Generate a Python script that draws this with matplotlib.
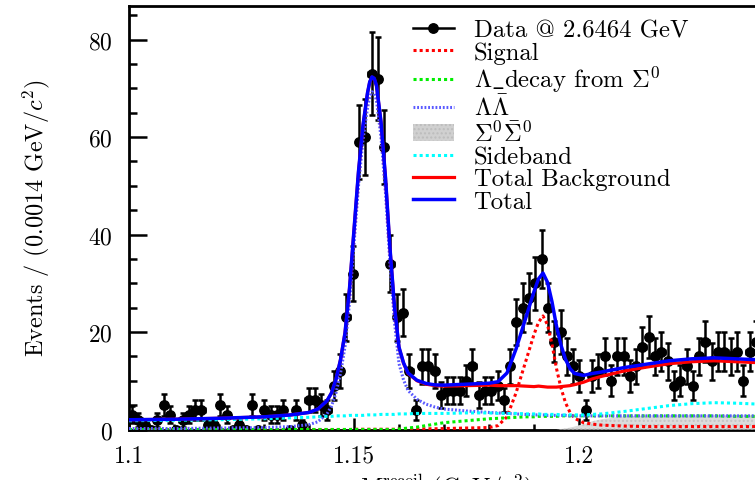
import numpy as np
import matplotlib
matplotlib.use('Agg')
import matplotlib.pyplot as plt
from matplotlib.lines import Line2D
from matplotlib.patches import Patch
from matplotlib.ticker import MultipleLocator, FuncFormatter

plt.rcParams['font.family'] = ['cmr10', 'DejaVu Serif']
plt.rcParams['mathtext.fontset'] = 'cm'
plt.rcParams['axes.formatter.use_mathtext'] = True

# histogram: 100 bins of 0.0014 GeV starting at 1.1
x_lo = 1.1
bin_width = 0.0014
counts = [3, 2, 1, 0, 2, 5, 3, 0, 2, 3,
          4, 4, 1, 1, 5, 3, 0, 1, 0, 5,
          0, 4, 3, 3, 4, 0, 4, 1, 6, 6,
          5, 4, 9, 12, 23, 32, 59, 60, 73, 72,
          58, 34, 23, 24, 12, 4, 13, 13, 12, 7,
          8, 8, 8, 10, 13, 7, 8, 8, 9, 6,
          13, 22, 25, 27, 30, 35, 25, 18, 20, 15,
          13, 11, 4, 11, 12, 15, 10, 15, 15, 11,
          13, 17, 19, 15, 16, 14, 9, 10, 13, 9,
          15, 18, 14, 16, 16, 15, 16, 10, 16, 18]

# fit components
fit_x = [1.100, 1.110, 1.120, 1.130, 1.136, 1.140, 1.142, 1.144, 1.145, 1.146,
         1.147, 1.148, 1.149, 1.150, 1.151, 1.152, 1.153, 1.1535, 1.154, 1.1545,
         1.155, 1.156, 1.157, 1.158, 1.159, 1.160, 1.161, 1.162, 1.164, 1.166,
         1.168, 1.170, 1.175, 1.180, 1.182, 1.184, 1.186, 1.188, 1.190, 1.191,
         1.192, 1.193, 1.194, 1.195, 1.196, 1.197, 1.198, 1.199, 1.201, 1.203,
         1.205, 1.210, 1.215, 1.220, 1.225, 1.230, 1.235, 1.240]
lam_lambar = [0.2, 0.2, 0.3, 0.4, 0.6, 1.0, 1.6, 3.2, 4.8, 7.5,
              11.5, 17, 26, 38, 50, 59.5, 66, 68.3, 69.3, 69.0,
              67.5, 60, 48.5, 34, 22, 13.5, 10.2, 8.0, 6.2, 5.2,
              4.6, 4.2, 3.8, 3.5, 3.4, 3.3, 3.2, 3.1, 3.0, 3.0,
              3.0, 2.9, 2.9, 2.9, 2.9, 2.9, 2.8, 2.8, 2.8, 2.8,
              2.8, 2.8, 2.8, 2.8, 2.8, 2.8, 2.8, 2.8]
sideband = [1.8, 1.9, 2.0, 2.2, 2.4, 2.5, 2.6, 2.7, 2.7, 2.8,
            2.8, 2.8, 2.9, 2.9, 2.9, 2.9, 3.0, 3.0, 3.0, 3.0,
            3.0, 3.1, 3.1, 3.1, 3.1, 3.2, 3.2, 3.2, 3.3, 3.3,
            3.3, 3.3, 3.4, 3.4, 3.3, 3.3, 3.3, 3.2, 3.2, 3.2,
            3.1, 3.1, 3.1, 3.1, 3.0, 3.0, 3.0, 3.0, 3.0, 3.1,
            3.2, 3.7, 4.3, 4.9, 5.3, 5.5, 5.4, 5.2]
lam_from_sigma = [0, 0, 0, 0, 0, 0, 0, 0, 0, 0,
                  0, 0, 0, 0, 0, 0, 0, 0, 0, 0,
                  0, 0, 0, 0, 0, 0.1, 0.2, 0.3, 0.5, 0.8,
                  1.1, 1.4, 1.8, 2.2, 2.3, 2.4, 2.5, 2.6, 2.6, 2.7,
                  2.7, 2.7, 2.7, 2.7, 2.8, 2.8, 2.8, 2.8, 2.8, 2.8,
                  2.8, 2.8, 2.8, 2.8, 2.8, 2.8, 2.7, 2.7]
sig0_sig0bar = [0, 0, 0, 0, 0, 0, 0, 0, 0, 0,
                0, 0, 0, 0, 0, 0, 0, 0, 0, 0,
                0, 0, 0, 0, 0, 0, 0, 0, 0, 0,
                0, 0, 0, 0, 0, 0, 0, 0, 0, 0,
                0, 0, 0, 0, 0.1, 0.2, 0.4, 0.6, 1.1, 1.7,
                2.1, 2.7, 2.9, 3.0, 3.0, 3.0, 3.0, 3.0]
signal = [0, 0, 0, 0, 0, 0, 0, 0, 0, 0,
          0, 0, 0, 0.05, 0.05, 0.05, 0.05, 0.05, 0.05, 0.05,
          0.05, 0.05, 0.05, 0.05, 0.05, 0.1, 0.1, 0.1, 0.1, 0.15,
          0.15, 0.2, 0.3, 0.4, 0.8, 2.6, 7.5, 13.5, 19.5, 22,
          23.3, 21.5, 17.5, 12.5, 8.5, 5.5, 3.5, 2.3, 1.4, 1.1,
          0.9, 0.7, 0.6, 0.6, 0.6, 0.6, 0.6, 0.6]

counts = np.array(counts, dtype=float)
centers = x_lo + bin_width * (np.arange(len(counts)) + 0.5)
total_bkg = (np.array(lam_lambar) + np.array(sideband)
             + np.array(lam_from_sigma) + np.array(sig0_sig0bar))
total = total_bkg + np.array(signal)

fig = plt.figure(figsize=(7.55, 4.81), dpi=100)
ax = fig.add_axes([129 / 755, (481 - 430.5) / 481, 630 / 755, 423.5 / 481])

ax.errorbar(centers, counts, yerr=np.sqrt(counts), xerr=bin_width / 2,
            fmt='o', color='black', ms=6.8, elinewidth=1.8, capsize=2,
            capthick=1.8, zorder=2)

ax.fill_between(fit_x, 0, sig0_sig0bar, facecolor='#dcdcdc', edgecolor='#c4c4c4',
                hatch='....', lw=0, zorder=3)
dot = (0, (1, 1))
ax.plot(fit_x, signal, color='#ff0000', ls=dot, lw=2.2, zorder=4)
ax.plot(fit_x, lam_from_sigma, color='#00ee00', ls=dot, lw=2.2, zorder=4)
ax.plot(fit_x, lam_lambar, color='#5a5aff', ls=(0, (0.6, 0.6)), lw=2.2, zorder=4)
ax.plot(fit_x, sideband, color='#00ffff', ls=dot, lw=2.2, zorder=4)
ax.plot(fit_x, total_bkg, color='#ff0000', lw=2.3, zorder=5)
ax.plot(fit_x, total, color='#0000ff', lw=2.5, zorder=6)

ax.set_xlim(1.1, 1.24)
ax.set_ylim(0, 86.9)
ax.xaxis.set_major_locator(MultipleLocator(0.05))
ax.xaxis.set_minor_locator(MultipleLocator(0.01))
ax.yaxis.set_major_locator(MultipleLocator(20))
ax.yaxis.set_minor_locator(MultipleLocator(5))
ax.xaxis.set_major_formatter(FuncFormatter(lambda v, p: '%g' % round(v, 3)))
ax.tick_params(which='both', direction='in', labelsize=17, width=1.8)
ax.tick_params(axis='y', which='major', length=13, pad=12)
ax.tick_params(axis='y', which='minor', length=6)
ax.tick_params(axis='x', which='major', length=9, pad=11)
ax.tick_params(axis='x', which='minor', length=4.5)
for s in ax.spines.values():
    s.set_linewidth(2)
ax.spines['right'].set_visible(False)

ax.set_ylabel(r'Events / (0.0014 GeV/$c^2$)', fontsize=17.5)
ax.yaxis.set_label_coords(-0.123, 0.5)
ax.set_xlabel(r'$M^{\rm recoil}$ (GeV/$c^2$)', fontsize=17.5)
ax.xaxis.set_label_coords(0.5, -0.1)

handles = [
    Line2D([], [], color='black', marker='o', ms=6.8, lw=1.8),
    Line2D([], [], color='#ff0000', ls=dot, lw=2.2),
    Line2D([], [], color='#00ee00', ls=dot, lw=2.2),
    Line2D([], [], color='#5a5aff', ls=(0, (0.6, 0.6)), lw=2.2),
    Patch(facecolor='#d0d0d0', edgecolor='#bdbdbd', hatch='....', lw=0),
    Line2D([], [], color='#00ffff', ls=dot, lw=2.2),
    Line2D([], [], color='#ff0000', lw=2.3),
    Line2D([], [], color='#0000ff', lw=2.5),
]
labels = ['Data @ 2.6464 GeV', 'Signal', r'$\Lambda\_$decay from $\Sigma^0$',
          r'$\Lambda\bar{\Lambda}$', r'$\Sigma^0\bar{\Sigma}^0$', 'Sideband',
          'Total Background', 'Total']
fig.legend(handles, labels, loc='upper left', bbox_to_anchor=(413 / 755, 1 - 20 / 481),
           frameon=False, fontsize=17.8, handlelength=1.65, handletextpad=0.8,
           labelspacing=0.0, borderpad=0, borderaxespad=0)

fig.savefig('out.png', dpi=100)
